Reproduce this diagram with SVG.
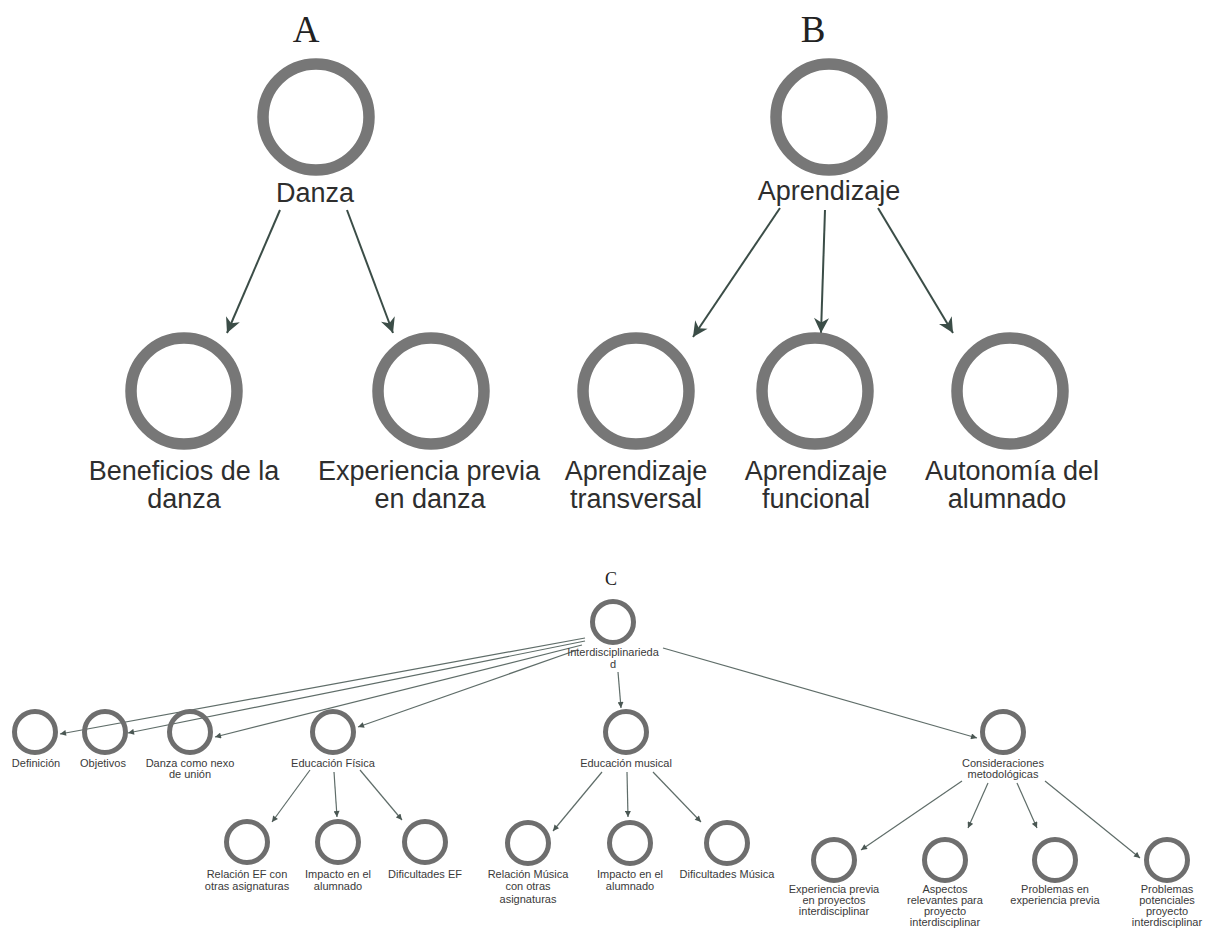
<svg xmlns="http://www.w3.org/2000/svg" width="1207" height="931" viewBox="0 0 1207 931">
<style>
.big{fill:none;stroke:#777;stroke-width:11.5}
.sm{fill:none;stroke:#6e6e6e;stroke-width:5}
.tb{font-family:"Liberation Sans",Arial,sans-serif;font-size:27px;fill:#2e2e2e;text-anchor:middle}
.ts{font-family:"Liberation Sans",Arial,sans-serif;font-size:11px;fill:#3a3a3a;text-anchor:middle}
.lt{font-family:"Liberation Serif","Times New Roman",serif;fill:#222;text-anchor:middle}
.eb{stroke:#3b4d47;stroke-width:2;fill:none;marker-end:url(#ab)}
.es{stroke:#5f6d69;stroke-width:1.2;fill:none;marker-end:url(#as)}
</style>
<defs>
<marker id="ab" viewBox="0 0 10 10" refX="10" refY="5" markerWidth="17" markerHeight="15" markerUnits="userSpaceOnUse" orient="auto">
<path d="M0,0 L10,5 L0,10 L3,5 z" fill="#3b4d47"/>
</marker>
<marker id="as" viewBox="0 0 10 10" refX="10" refY="5" markerWidth="7" markerHeight="6" markerUnits="userSpaceOnUse" orient="auto">
<path d="M0,0 L10,5 L0,10 z" fill="#4a5753"/>
</marker>
</defs>
<rect width="1207" height="931" fill="#fff"/>
<text class="lt" x="306" y="42" font-size="37">A</text>
<text class="lt" x="813" y="42" font-size="37">B</text>
<text class="lt" x="611" y="585" font-size="18">C</text>
<g id="connectors">
<line class="eb" x1="280" y1="210" x2="227" y2="333"/>
<line class="eb" x1="347" y1="210" x2="393" y2="333"/>
<line class="eb" x1="780" y1="208" x2="693" y2="337"/>
<line class="eb" x1="825" y1="210" x2="821" y2="333"/>
<line class="eb" x1="878" y1="208" x2="953" y2="333"/>
<line class="es" x1="585" y1="638" x2="60" y2="734"/>
<line class="es" x1="585" y1="641" x2="128" y2="733"/>
<line class="es" x1="582" y1="645" x2="215" y2="737"/>
<line class="es" x1="577" y1="650" x2="358" y2="727"/>
<line class="es" x1="618" y1="672" x2="621" y2="708"/>
<line class="es" x1="663" y1="648" x2="977" y2="738"/>
<line class="es" x1="310" y1="770" x2="272" y2="822"/>
<line class="es" x1="334" y1="772" x2="337" y2="817"/>
<line class="es" x1="360" y1="770" x2="402" y2="820"/>
<line class="es" x1="602" y1="772" x2="553" y2="831"/>
<line class="es" x1="627" y1="772" x2="628" y2="817"/>
<line class="es" x1="653" y1="772" x2="701" y2="822"/>
<line class="es" x1="962" y1="781" x2="861" y2="850"/>
<line class="es" x1="988" y1="783" x2="968" y2="828"/>
<line class="es" x1="1017" y1="783" x2="1037" y2="828"/>
<line class="es" x1="1045" y1="781" x2="1140" y2="858"/>
</g>
<g id="danza"><circle class="big" cx="316" cy="117" r="53"/><text class="tb" x="315" y="202">Danza</text></g>
<g id="beneficios"><circle class="big" cx="184" cy="391" r="53"/><text class="tb" x="184" y="480">Beneficios de la</text><text class="tb" x="184" y="508">danza</text></g>
<g id="experiencia"><circle class="big" cx="431" cy="391" r="53"/><text class="tb" x="429" y="480">Experiencia previa</text><text class="tb" x="430" y="508">en danza</text></g>
<g id="aprendizaje"><circle class="big" cx="829" cy="117" r="53"/><text class="tb" x="829" y="200">Aprendizaje</text></g>
<g id="transversal"><circle class="big" cx="636" cy="391" r="53"/><text class="tb" x="636" y="480">Aprendizaje</text><text class="tb" x="636" y="508">transversal</text></g>
<g id="funcional"><circle class="big" cx="815" cy="391" r="53"/><text class="tb" x="816" y="480">Aprendizaje</text><text class="tb" x="816" y="508">funcional</text></g>
<g id="autonomia"><circle class="big" cx="1010" cy="391" r="53"/><text class="tb" x="1012" y="480">Autonomía del</text><text class="tb" x="1007" y="508">alumnado</text></g>
<g id="interdisciplinariedad"><circle class="sm" cx="613" cy="622" r="20.5"/><text class="ts" x="613" y="656">Interdisciplinarieda</text><text class="ts" x="613" y="668">d</text></g>
<g id="definicion"><circle class="sm" cx="35" cy="732" r="20.5"/><text class="ts" x="36" y="767">Definición</text></g>
<g id="objetivos"><circle class="sm" cx="105" cy="732" r="20.5"/><text class="ts" x="103" y="767">Objetivos</text></g>
<g id="nexo"><circle class="sm" cx="190" cy="732" r="20.5"/><text class="ts" x="190" y="767">Danza como nexo</text><text class="ts" x="190" y="778">de unión</text></g>
<g id="ef"><circle class="sm" cx="333" cy="732" r="20.5"/><text class="ts" x="333" y="767">Educación Física</text></g>
<g id="musical"><circle class="sm" cx="626" cy="732" r="20.5"/><text class="ts" x="626" y="767">Educación musical</text></g>
<g id="consideraciones"><circle class="sm" cx="1003" cy="732" r="20.5"/><text class="ts" x="1003" y="767">Consideraciones</text><text class="ts" x="1003" y="778">metodológicas</text></g>
<g id="relacion-ef"><circle class="sm" cx="247" cy="842" r="20.5"/><text class="ts" x="247" y="878">Relación EF con</text><text class="ts" x="247" y="890">otras asignaturas</text></g>
<g id="impacto-ef"><circle class="sm" cx="338" cy="842" r="20.5"/><text class="ts" x="338" y="878">Impacto en el</text><text class="ts" x="338" y="890">alumnado</text></g>
<g id="dificultades-ef"><circle class="sm" cx="425" cy="842" r="20.5"/><text class="ts" x="425" y="878">Dificultades EF</text></g>
<g id="relacion-musica"><circle class="sm" cx="528" cy="843" r="20.5"/><text class="ts" x="528" y="878">Relación Música</text><text class="ts" x="528" y="890">con otras</text><text class="ts" x="528" y="903">asignaturas</text></g>
<g id="impacto-musica"><circle class="sm" cx="630" cy="843" r="20.5"/><text class="ts" x="630" y="878">Impacto en el</text><text class="ts" x="630" y="890">alumnado</text></g>
<g id="dificultades-musica"><circle class="sm" cx="727" cy="843" r="20.5"/><text class="ts" x="727" y="878">Dificultades Música</text></g>
<g id="exp-previa-proyectos"><circle class="sm" cx="834" cy="860" r="20.5"/><text class="ts" x="834" y="893">Experiencia previa</text><text class="ts" x="834" y="904">en proyectos</text><text class="ts" x="834" y="915">interdisciplinar</text></g>
<g id="aspectos"><circle class="sm" cx="945" cy="860" r="20.5"/><text class="ts" x="945" y="893">Aspectos</text><text class="ts" x="945" y="904">relevantes para</text><text class="ts" x="945" y="915">proyecto</text><text class="ts" x="945" y="926">interdisciplinar</text></g>
<g id="problemas-exp"><circle class="sm" cx="1055" cy="860" r="20.5"/><text class="ts" x="1055" y="893">Problemas en</text><text class="ts" x="1055" y="904">experiencia previa</text></g>
<g id="problemas-pot"><circle class="sm" cx="1167" cy="860" r="20.5"/><text class="ts" x="1167" y="893">Problemas</text><text class="ts" x="1167" y="904">potenciales</text><text class="ts" x="1167" y="915">proyecto</text><text class="ts" x="1167" y="926">interdisciplinar</text></g>
</svg>
